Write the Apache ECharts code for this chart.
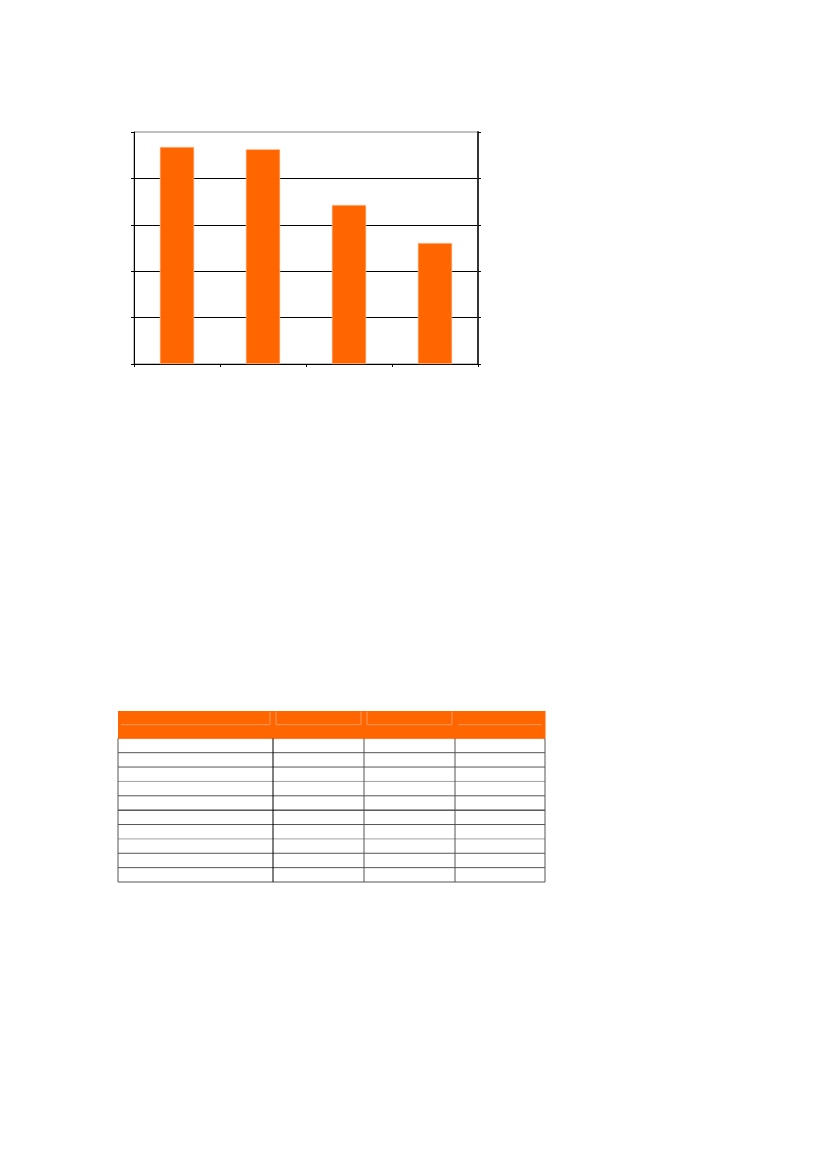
<!DOCTYPE html>
<html>
<head>
<meta charset="utf-8">
<script src="https://cdn.jsdelivr.net/npm/echarts@6/dist/echarts.min.js"></script>
<style>
  html, body { margin: 0; padding: 0; background: #fff; }
  #container { width: 827px; height: 1169px; }
</style>
</head>
<body>
<div id="container"></div>
<script>
// bar chart data (no labels shown in the picture)
var categories = ['', '', '', ''];
var values = [4.68, 4.63, 3.43, 2.61];
var yTicks = [0, 1, 2, 3, 4, 5];

// empty table below the chart: relative column widths, row count
var tableCols = [155, 91, 91, 90];
var tableRows = 10;
var headerRows = 1.9;
// line colours of the row separators, top to bottom
var rowLineColors = ['#555', '#555', '#555', '#a0a0a0', '#555', '#000', '#555', '#a0a0a0', '#555', '#555', '#555'];

var dom = document.getElementById('container');
var myChart = echarts.init(dom);

var colStart = [];
var acc = 0;
for (var i = 0; i < tableCols.length; i++) {
    colStart.push(acc);
    acc += tableCols[i];
}
var tableWidth = acc;

var tableData = [];
for (var c = 0; c < tableCols.length; c++) {
    tableData.push([c]);
}

function renderTable(params, api) {
    var c = params.dataIndex;
    var x0 = colStart[c], x1 = colStart[c] + tableCols[c];
    var children = [];
    // header block
    var h0 = api.coord([x0, 0]);
    var h1 = api.coord([x1, headerRows]);
    children.push({
        type: 'rect',
        shape: { x: h0[0], y: h0[1], width: h1[0] - h0[0] + 0.5, height: h1[1] - h0[1] },
        style: { fill: '#ff6600' }
    });
    // light inner line in header cell
    var u0 = api.coord([x0 + 3, headerRows * 0.5]);
    var u1 = api.coord([x1 - 3, headerRows * 0.5]);
    var t0 = api.coord([x0 + 3, 0.05]);
    children.push({
        type: 'line',
        shape: { x1: u0[0], y1: u0[1], x2: u1[0], y2: u1[1] },
        style: { stroke: '#ff9a5c', lineWidth: 1 }
    });
    if (c < tableCols.length - 1) {
        children.push({
            type: 'line',
            shape: { x1: u1[0], y1: t0[1], x2: u1[0], y2: u1[1] },
            style: { stroke: '#ff9a5c', lineWidth: 1 }
        });
    }
    if (c == 1 || c == 2) {
        children.push({
            type: 'line',
            shape: { x1: u0[0], y1: t0[1], x2: u0[0], y2: u0[1] },
            style: { stroke: '#ff9a5c', lineWidth: 1 }
        });
    }
    // body rows
    for (var r = 0; r <= tableRows; r++) {
        var p0 = api.coord([x0, headerRows + r]);
        var p1 = api.coord([x1, headerRows + r]);
        children.push({
            type: 'line',
            shape: { x1: p0[0], y1: p0[1], x2: p1[0], y2: p1[1] },
            style: { stroke: r == 0 ? '#ff6600' : rowLineColors[r], lineWidth: 1 }
        });
    }
    // vertical lines
    var v0 = api.coord([x0, headerRows]);
    var v1 = api.coord([x0, headerRows + tableRows]);
    children.push({
        type: 'line',
        shape: { x1: v0[0], y1: v0[1], x2: v1[0], y2: v1[1] },
        style: { stroke: c == 1 ? '#000' : '#555', lineWidth: 1 }
    });
    if (c == tableCols.length - 1) {
        var w0 = api.coord([x1, headerRows]);
        var w1 = api.coord([x1, headerRows + tableRows]);
        children.push({
            type: 'line',
            shape: { x1: w0[0], y1: w0[1], x2: w1[0], y2: w1[1] },
            style: { stroke: '#555', lineWidth: 1 }
        });
    }
    return { type: 'group', children: children };
}

var option = {
    animation: false,
    backgroundColor: '#fff',
    grid: [
        { left: 134, top: 132, width: 344, height: 232, show: true, borderColor: '#808080', borderWidth: 1 },
        { left: 118, top: 711, width: 427, height: 171 }
    ],
    xAxis: [
        {
            gridIndex: 0,
            type: 'category',
            data: categories,
            axisLine: { lineStyle: { color: '#000', width: 1 } },
            axisTick: { show: true, length: 3, lineStyle: { color: '#000' } },
            axisLabel: { show: false }
        },
        {
            gridIndex: 1,
            type: 'value',
            min: 0,
            max: tableWidth,
            show: false
        }
    ],
    yAxis: [
        {
            gridIndex: 0,
            type: 'value',
            min: yTicks[0],
            max: yTicks[yTicks.length - 1],
            interval: 1,
            axisLine: { show: true, lineStyle: { color: '#000', width: 1 } },
            axisTick: { show: true, length: 3, lineStyle: { color: '#000' } },
            axisLabel: { show: false },
            splitLine: { show: true, showMaxLine: false, lineStyle: { color: '#000', width: 1 } }
        },
        {
            gridIndex: 0,
            type: 'value',
            position: 'right',
            min: yTicks[0],
            max: yTicks[yTicks.length - 1],
            interval: 1,
            axisLine: { show: true, lineStyle: { color: '#333', width: 2 } },
            axisTick: { show: true, length: 3, lineStyle: { color: '#000' } },
            axisLabel: { show: false },
            splitLine: { show: false }
        },
        {
            gridIndex: 1,
            type: 'value',
            inverse: true,
            min: 0,
            max: headerRows + tableRows,
            show: false
        }
    ],
    series: [
        {
            type: 'bar',
            xAxisIndex: 0,
            yAxisIndex: 0,
            data: values,
            barWidth: '40%',
            itemStyle: { color: '#ff6600', borderColor: '#ffcfb0', borderWidth: 0.6 }
        },
        {
            type: 'custom',
            xAxisIndex: 1,
            yAxisIndex: 2,
            data: tableData,
            renderItem: renderTable,
            silent: true
        }
    ]
};

if (option && typeof option === 'object') {
    myChart.setOption(option, true);
}
</script>
</body>
</html>
